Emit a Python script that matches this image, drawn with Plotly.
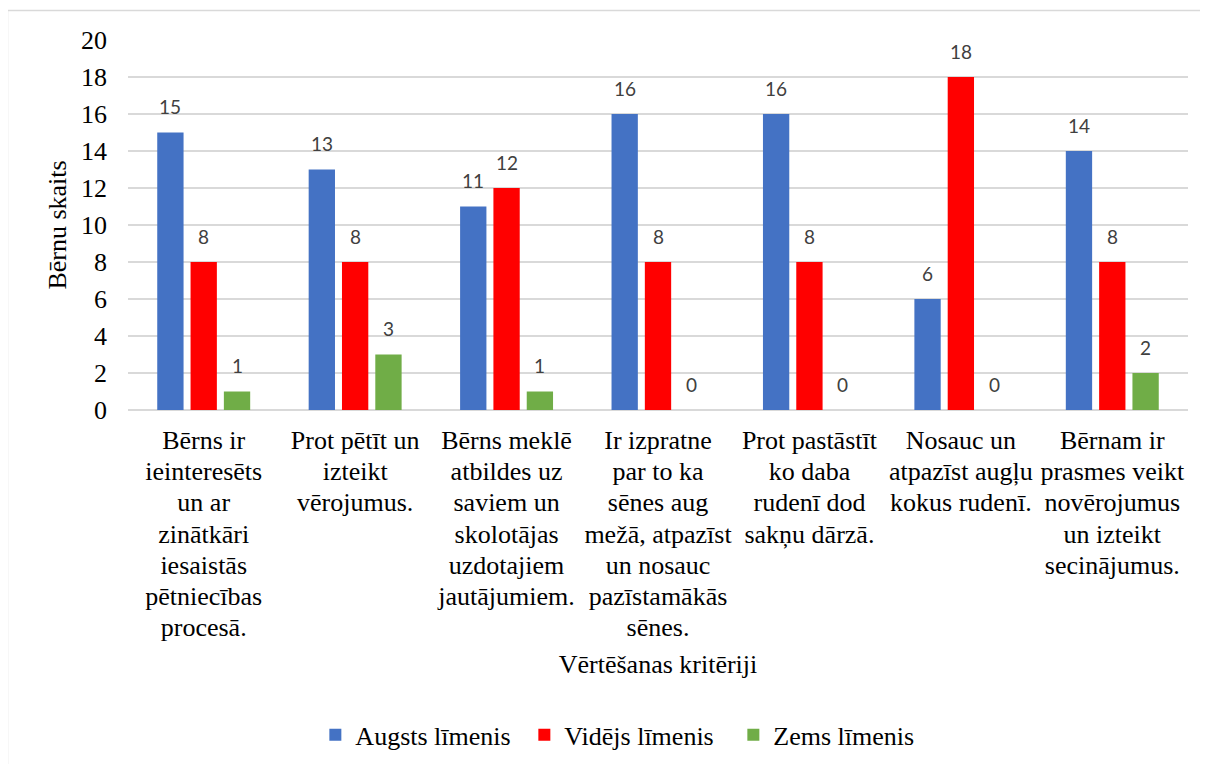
import plotly.graph_objects as go

categories = [
    "Bērns ir<br>ieinteresēts<br>un ar<br>zinātkāri<br>iesaistās<br>pētniecības<br>procesā.",
    "Prot pētīt un<br>izteikt<br>vērojumus.",
    "Bērns meklē<br>atbildes uz<br>saviem un<br>skolotājas<br>uzdotajiem<br>jautājumiem.",
    "Ir izpratne<br>par to ka<br>sēnes aug<br>mežā, atpazīst<br>un nosauc<br>pazīstamākās<br>sēnes.",
    "Prot pastāstīt<br>ko daba<br>rudenī dod<br>sakņu dārzā.",
    "Nosauc un<br>atpazīst augļu<br>kokus rudenī.",
    "Bērnam ir<br>prasmes veikt<br>novērojumus<br>un izteikt<br>secinājumus.",
]
series_names = ["Augsts līmenis", "Vidējs līmenis", "Zems līmenis"]
augsts = [15, 13, 11, 16, 16, 6, 14]
videjs = [8, 8, 12, 8, 8, 18, 8]
zems = [1, 3, 1, 0, 0, 0, 2]
y_ticks = [0, 2, 4, 6, 8, 10, 12, 14, 16, 18, 20]

colors = ["#4472C4", "#FF0000", "#70AD47"]
all_values = [augsts, videjs, zems]

SERIF = "Liberation Serif"
BARGAP = 0.34
BARGROUPGAP = 0.21

fig = go.Figure()
for name, vals, col in zip(series_names, all_values, colors):
    fig.add_trace(go.Bar(
        name=name, x=categories, y=vals,
        marker=dict(color=col, line=dict(width=0)),
    ))

# data labels above bars
slot = (1 - BARGAP) / 3
annotations = []
for k, vals in enumerate(all_values):
    for i, v in enumerate(vals):
        annotations.append(dict(
            x=i + (k - 1) * slot, y=v, xref="x", yref="y",
            text=str(v), showarrow=False, yanchor="middle", yshift=26,
            font=dict(family="Lato", size=19, color="#404040"),
        ))

# category labels: 26px glyphs with tighter (Word-like) line spacing
tick_text = ['<span style="font-size:26px">' + c + '</span>' for c in categories]

fig.update_layout(
    width=1200, height=756,
    paper_bgcolor="white", plot_bgcolor="white",
    margin=dict(l=120, r=20, t=32, b=354, autoexpand=False),
    barmode="group", bargap=BARGAP, bargroupgap=BARGROUPGAP,
    font=dict(family=SERIF, size=26, color="black"),
    xaxis=dict(
        type="category", showgrid=False, showline=False, ticks="",
        tickvals=categories, ticktext=tick_text, ticklabelstandoff=14,
        tickfont=dict(family=SERIF, size=24, color="black"),
        title=dict(text="Vērtēšanas kritēriji", font=dict(family=SERIF, size=26, color="black"), standoff=13),
    ),
    yaxis=dict(
        range=[0, 20], tickvals=y_ticks, showgrid=True, gridcolor="#D9D9D9", gridwidth=1.5,
        zeroline=True, zerolinecolor="#D9D9D9", zerolinewidth=1.5, showline=False, ticks="",
        tickfont=dict(family=SERIF, size=26, color="black"), ticklabelstandoff=20,
        title=dict(text="Bērnu skaits", font=dict(family=SERIF, size=26, color="black"), standoff=6),
    ),
    legend=dict(
        orientation="h", x=0.4725, xanchor="center", y=-0.878, yanchor="middle",
        font=dict(family=SERIF, size=26, color="black"), itemwidth=30,
        entrywidth=164, entrywidthmode="pixels",
        traceorder="normal", bgcolor="rgba(0,0,0,0)",
    ),
    annotations=annotations,
    shapes=[
        dict(type="line", xref="paper", yref="paper", x0=-0.1137, x1=-0.1137, y0=-1.0, y1=1.0797,
             line=dict(color="#D9D9D9", width=1.5)),
        dict(type="line", xref="paper", yref="paper", x0=-0.1137, x1=1.05, y0=1.0797, y1=1.0797,
             line=dict(color="#D9D9D9", width=1.5)),
    ],
)

fig.write_html("out.html")
